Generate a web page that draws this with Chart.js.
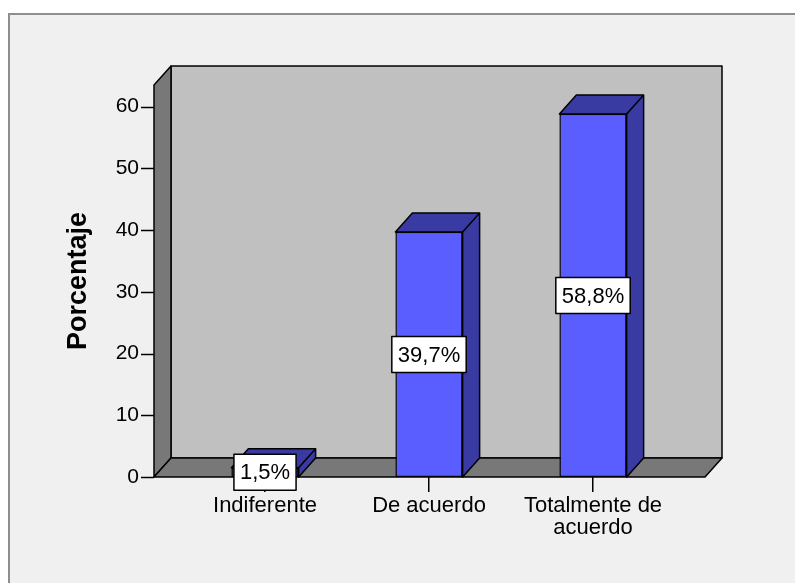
<!DOCTYPE html>
<html lang="es">
<head>
    <meta charset="UTF-8">
    <title>Porcentaje</title>
    <style>
        html, body {
            margin: 0;
            padding: 0;
            background: #ffffff;
        }
        #wrap {
            width: 795px;
            height: 583px;
        }
    </style>
</head>
<body>
    <div id="wrap">
        <canvas id="chart" width="795" height="583"></canvas>
    </div>
    <script src="https://cdn.jsdelivr.net/npm/chart.js"></script>
    <script>
        const categorias = ['Indiferente', 'De acuerdo', ['Totalmente de', 'acuerdo']];
        const porcentajes = [1.5, 39.7, 58.8];
        const ticksY = [0, 10, 20, 30, 40, 50, 60];
        const maxY = 63.5;

        const FONT = 'Liberation Sans, Arial, sans-serif';
        const depth = { dx: 17, dy: -19 };   // 3D offset
        const sidePad = 29;                  // floor extends past the category band

        // panel background + walls and floor
        const fondo = {
            id: 'fondo',
            beforeDraw(chart) {
                const ctx = chart.ctx;
                ctx.save();
                ctx.fillStyle = '#ffffff';
                ctx.fillRect(0, 0, chart.width, chart.height);
                ctx.fillStyle = '#f0f0f0';
                ctx.fillRect(8, 13, chart.width, chart.height);
                ctx.strokeStyle = '#8e8e8e';
                ctx.lineWidth = 2;
                ctx.beginPath();
                ctx.moveTo(9, chart.height);
                ctx.lineTo(9, 14);
                ctx.lineTo(chart.width, 14);
                ctx.stroke();
                ctx.restore();
            },
            beforeDatasetsDraw(chart) {
                const ctx = chart.ctx;
                const a = chart.chartArea;
                const L = a.left - sidePad, R = a.right + sidePad + 1;
                const T = a.top, B = a.bottom;
                const { dx, dy } = depth;
                ctx.save();
                ctx.lineWidth = 1.5;
                ctx.strokeStyle = '#000';
                ctx.lineJoin = 'round';
                const poly = (pts, fill) => {
                    ctx.beginPath();
                    pts.forEach((p, i) => i ? ctx.lineTo(p[0], p[1]) : ctx.moveTo(p[0], p[1]));
                    ctx.closePath();
                    ctx.fillStyle = fill;
                    ctx.fill();
                    ctx.stroke();
                };
                // back wall
                poly([[L + dx, T + dy], [R + dx, T + dy], [R + dx, B + dy], [L + dx, B + dy]], '#c0c0c0');
                // left wall
                poly([[L, B], [L, T], [L + dx, T + dy], [L + dx, B + dy]], '#787878');
                // floor
                poly([[L, B], [R, B], [R + dx, B + dy], [L + dx, B + dy]], '#787878');

                // y tick marks to the left of the wall
                const y = chart.scales.y;
                ctx.beginPath();
                y.ticks.forEach(t => {
                    const py = Math.round(y.getPixelForValue(t.value)) + 0.5;
                    ctx.moveTo(L - 13, py);
                    ctx.lineTo(L, py);
                });
                ctx.stroke();
                ctx.restore();
            }
        };

        // top and side faces of bars, then value boxes
        const barras3d = {
            id: 'barras3d',
            afterDatasetsDraw(chart) {
                const ctx = chart.ctx;
                const meta = chart.getDatasetMeta(0);
                const { dx, dy } = depth;
                ctx.save();
                ctx.lineWidth = 1.5;
                ctx.strokeStyle = '#000';
                ctx.lineJoin = 'round';
                meta.data.forEach(bar => {
                    const p = bar.getProps(['x', 'y', 'base', 'width'], true);
                    const l = p.x - p.width / 2, r = p.x + p.width / 2;
                    ctx.fillStyle = '#393ba2';
                    ctx.beginPath();
                    ctx.moveTo(l, p.y);
                    ctx.lineTo(l + dx, p.y + dy);
                    ctx.lineTo(r + dx, p.y + dy);
                    ctx.lineTo(r + dx, p.base + dy);
                    ctx.lineTo(r, p.base);
                    ctx.lineTo(r, p.y);
                    ctx.closePath();
                    ctx.fill();
                    ctx.stroke();
                    ctx.beginPath();
                    ctx.moveTo(r, p.y);
                    ctx.lineTo(r + dx, p.y + dy);
                    ctx.stroke();
                });

                ctx.font = '22px ' + FONT;
                ctx.textAlign = 'center';
                ctx.textBaseline = 'middle';
                meta.data.forEach((bar, i) => {
                    const p = bar.getProps(['x', 'y', 'base'], true);
                    const txt = porcentajes[i].toFixed(1).replace('.', ',') + '%';
                    const w = ctx.measureText(txt).width + 12;
                    const h = 36;
                    const cy = (p.y + p.base) / 2;
                    ctx.fillStyle = '#ffffff';
                    ctx.fillRect(p.x - w / 2, cy - h / 2, w, h);
                    ctx.strokeRect(p.x - w / 2, cy - h / 2, w, h);
                    ctx.fillStyle = '#000';
                    ctx.fillText(txt, p.x, cy + 1);
                });
                ctx.restore();
            }
        };

        const ctx = document.getElementById('chart').getContext('2d');
        new Chart(ctx, {
            type: 'bar',
            data: {
                labels: categorias,
                datasets: [{
                    data: porcentajes,
                    backgroundColor: '#5a5eff',
                    borderColor: '#000',
                    borderWidth: 1.5,
                    borderSkipped: false,
                    categoryPercentage: 1,
                    barPercentage: 0.41
                }]
            },
            options: {
                responsive: false,
                animation: false,
                devicePixelRatio: 1,
                layout: { padding: { left: 62, right: 120, top: 85, bottom: 26 } },
                plugins: {
                    legend: { display: false },
                    tooltip: { enabled: false }
                },
                scales: {
                    x: {
                        grid: {
                            display: true,
                            drawOnChartArea: false,
                            drawTicks: true,
                            tickLength: 15,
                            offset: false,
                            color: '#000',
                            lineWidth: 1.5
                        },
                        border: { display: false },
                        ticks: {
                            color: '#000',
                            font: { family: FONT, size: 22, lineHeight: 1.0 },
                            padding: 3,
                            maxRotation: 0,
                            autoSkip: false
                        },
                        afterFit(s) { s.height = 80; }
                    },
                    y: {
                        min: 0,
                        max: maxY,
                        grid: { display: false, drawTicks: false },
                        border: { display: false },
                        ticks: {
                            color: '#000',
                            font: { family: FONT, size: 21 },
                            padding: 44
                        },
                        afterBuildTicks(s) {
                            s.ticks = ticksY.map(v => ({ value: v }));
                        },
                        title: {
                            display: true,
                            text: 'Porcentaje',
                            color: '#000',
                            font: { family: FONT, size: 27, weight: 'bold' },
                            padding: { top: 0, bottom: 0 }
                        },
                        afterFit(s) { s.width = 121; }
                    }
                }
            },
            plugins: [fondo, barras3d]
        });
    </script>
</body>
</html>
